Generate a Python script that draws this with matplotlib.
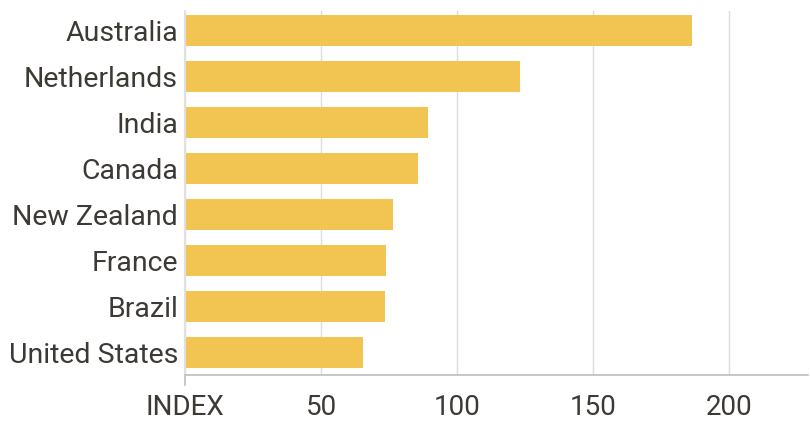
import matplotlib.pyplot as plt
import numpy as np

# Data (top to bottom)
countries = ['Australia', 'Netherlands', 'India', 'Canada', 'New Zealand',
             'France', 'Brazil', 'United States']
index_values = [186.5, 123.2, 89.3, 85.7, 76.5, 73.9, 73.5, 65.4]
x_ticks = [0, 50, 100, 150, 200]
x_tick_labels = ['INDEX', '50', '100', '150', '200']

plt.rcParams['font.family'] = ['Roboto', 'DejaVu Sans']
text_color = '#3d3a36'

fig = plt.figure(figsize=(8.1, 4.23), dpi=100)
ax = fig.add_axes([185 / 810, 48 / 423, 623 / 810, 364 / 423])

y = np.arange(len(countries))
ax.barh(y, index_values, height=0.67, color='#f2c451', zorder=2)

ax.set_xlim(0, 229)
ax.set_ylim(7.48, -0.43)
ax.set_yticks(y)
ax.set_yticklabels(countries, fontsize=20.5, color=text_color)
ax.set_xticks(x_ticks)
ax.set_xticklabels(x_tick_labels, fontsize=20, color=text_color)

ax.grid(axis='x', color='#dcdcdc', linewidth=1.0, zorder=0)
ax.tick_params(axis='y', length=0, pad=5)
ax.tick_params(axis='x', length=0, pad=14)

for s in ['top', 'right']:
    ax.spines[s].set_visible(False)
ax.spines['left'].set_color('#e0e0e0')
ax.spines['left'].set_linewidth(1.5)
ax.spines['bottom'].set_color('#bdbdbd')
ax.spines['bottom'].set_linewidth(1.2)

# small tick mark at zero only
ax.plot([0, 0], [7.48, 7.7], color='#bdbdbd', linewidth=1.2, clip_on=False)

fig.savefig('out.png', dpi=100)
